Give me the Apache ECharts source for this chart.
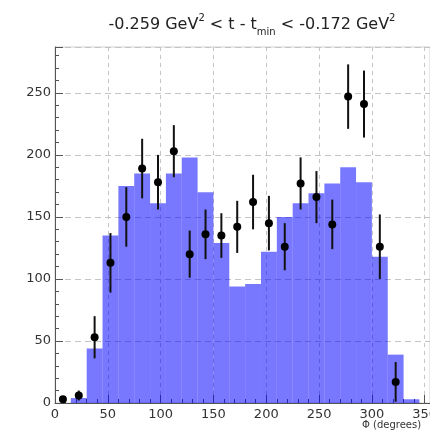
<!DOCTYPE html>
<html>
<head>
<meta charset="utf-8">
<script src="https://cdn.jsdelivr.net/npm/echarts@6/dist/echarts.min.js"></script>
<style>
  html, body { margin: 0; padding: 0; background: #fff; }
  #chart { width: 430px; height: 436px; }
</style>
</head>
<body>
<div id="chart"></div>
<script>
// bin centres in degrees (15 deg bins)
var phiCenters = [7.5, 22.5, 37.5, 52.5, 67.5, 82.5, 97.5, 112.5, 127.5, 142.5, 157.5, 172.5,
  187.5, 202.5, 217.5, 232.5, 247.5, 262.5, 277.5, 292.5, 307.5, 322.5, 337.5, 352.5]
var binWidth = 15
// simulated histogram (blue)
var histValues = [0, 4, 44, 135, 175, 185, 161, 185, 198, 170, 129, 94,
  96, 122, 150, 161, 169, 177, 190, 178, 118, 39, 3, 0]
// measured points and errors
var dataValues = [3, 6, 53, 113, 150, 189, 178, 203, 120, 136, 135, 142,
  162, 145, 126, 177, 166, 144, 247, 241, 126, 17, null, null]
var dataErrors = [2, 4, 17, 24, 24, 24, 22, 21, 19, 20, 18, 21,
  22, 22, 19, 21, 21, 20, 26, 27, 26, 16, null, null]
var xTicks = [0, 50, 100, 150, 200, 250, 300, 350]

var histData = phiCenters.map(function (c, i) { return [c, histValues[i]] })
var pointData = []
phiCenters.forEach(function (c, i) {
  if (dataValues[i] != null) pointData.push([c, dataValues[i], dataErrors[i]])
})

var myChart = echarts.init(document.getElementById('chart'))
var font = 'DejaVu Sans, Verdana, sans-serif'
var txt = { fontFamily: font, color: '#222', fontWeight: 'normal', lineHeight: 24 }
var option = {
  animation: false,
  title: {
    text: '{m|-0.259 GeV}{sup|2}{m| < t - t}{sub|min}{m| < -0.172 GeV}{sup|2}',
    left: 247,
    top: 8,
    textAlign: 'center',
    textStyle: {
      fontWeight: 'normal',
      rich: {
        m: Object.assign({ fontSize: 16, verticalAlign: 'middle' }, txt),
        sup: Object.assign({ fontSize: 10, verticalAlign: 'top', padding: [0, 0, 6, 0] }, txt),
        sub: Object.assign({ fontSize: 10, verticalAlign: 'bottom', padding: [6, 0, 0, 0] }, txt)
      }
    }
  },
  grid: {
    left: 55, top: 47, right: 0, bottom: 33,
    outerBoundsMode: 'none', containLabel: false,
    show: true, borderColor: '#cfcfcf', borderWidth: 1
  },
  xAxis: {
    type: 'value',
    min: 0,
    max: 355,
    interval: 50,
    axisLine: { show: true, onZero: false, lineStyle: { color: '#555', width: 1 } },
    axisTick: { show: true, inside: true, length: 8, lineStyle: { color: '#555' } },
    minorTick: { show: true, splitNumber: 5, length: 4, lineStyle: { color: '#555' } },
    axisLabel: {
      margin: 5, fontSize: 13, fontFamily: font, color: '#333',
      customValues: xTicks
    },
    splitLine: { show: true, lineStyle: { color: '#c4c4c4', type: [4, 4], width: 1 } }
  },
  yAxis: {
    type: 'value',
    min: 0,
    max: 287,
    interval: 50,
    axisLine: { show: true, lineStyle: { color: '#555', width: 1 } },
    axisTick: { show: true, inside: true, length: 8, lineStyle: { color: '#555' } },
    minorTick: { show: true, splitNumber: 5, length: 4, lineStyle: { color: '#555' } },
    axisLabel: { margin: 4, fontSize: 13, fontFamily: font, color: '#333', showMaxLabel: false },
    splitLine: { show: true, lineStyle: { color: '#c4c4c4', type: [6, 4], width: 1 } }
  },
  graphic: [{
    type: 'text',
    left: 362,
    top: 420,
    style: { text: 'Φ (degrees)', fontSize: 10, fontFamily: font, fill: '#333' }
  }],
  series: [
    {
      type: 'custom',
      name: 'hist',
      z: 2,
      renderItem: function (params, api) {
        var c = api.value(0)
        var v = api.value(1)
        var p0 = api.coord([c - binWidth / 2, v])
        var p1 = api.coord([c + binWidth / 2, 0])
        return {
          type: 'rect',
          shape: { x: p0[0], y: p0[1], width: p1[0] - p0[0], height: p1[1] - p0[1] },
          style: { fill: 'rgba(0, 0, 255, 0.53)' }
        }
      },
      data: histData
    },
    {
      type: 'custom',
      name: 'data',
      z: 5,
      renderItem: function (params, api) {
        var c = api.value(0)
        var v = api.value(1)
        var e = api.value(2)
        var pTop = api.coord([c, v + e])
        var pBot = api.coord([c, Math.max(v - e, 0)])
        var p = api.coord([c, v])
        return {
          type: 'group',
          children: [
            {
              type: 'line',
              shape: { x1: pTop[0], y1: pTop[1], x2: pBot[0], y2: pBot[1] },
              style: { stroke: '#111', lineWidth: 2 }
            },
            {
              type: 'circle',
              shape: { cx: p[0], cy: p[1], r: 4 },
              style: { fill: '#000' }
            }
          ]
        }
      },
      data: pointData
    }
  ]
}
myChart.setOption(option, true)
</script>
</body>
</html>
